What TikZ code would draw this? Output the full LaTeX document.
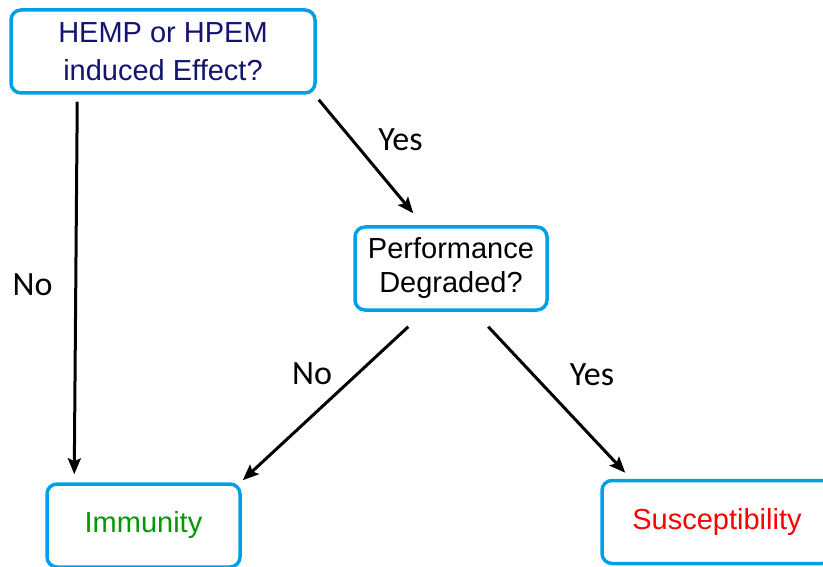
\documentclass[tikz,border=0pt]{standalone}
\usepackage{fontspec}
\setmainfont{Liberation Sans}
\newfontfamily\labfont{Carlito}
\usetikzlibrary{arrows.meta,calc}
\definecolor{boxblue}{RGB}{0,160,232}
\definecolor{navytext}{RGB}{20,20,110}
\definecolor{immgreen}{RGB}{0,153,0}
\definecolor{susred}{RGB}{255,0,0}
\begin{document}
\begin{tikzpicture}[x=1pt,y=-1pt,
  box/.style={draw=boxblue,line width=3.5pt,rounded corners=10pt,inner sep=0pt,align=center,font=\fontsize{29}{34}\selectfont},
  arr/.style={line width=3pt,-{Stealth[length=16pt,width=13pt,inset=3pt]}},
  lab/.style={font=\labfont\fontsize{34}{40}\selectfont,anchor=base}]
\clip (0,0) rectangle (823,567);
\fill[white] (0,0) rectangle (823,567);
\node[box,minimum width=304pt,minimum height=83pt,text=navytext,font=\fontsize{29}{38}\selectfont] (top) at (163,51.5) {HEMP or HPEM\\induced Effect?};
\node[box,minimum width=192pt,minimum height=83pt] (mid) at (451,268.5) {Performance\\Degraded?};
\node[box,minimum width=193pt,minimum height=83pt,text=immgreen] (imm) at (143.5,525.5) {Immunity};
\node[box,minimum width=230pt,minimum height=83pt,text=susred] (sus) at (717,522) {Susceptibility};
\draw[arr] ($(top.south west)+(68,7)$) -- ($(imm.north west)+(29,-8)$);
\draw[arr] ($(top.south east)+(2,5)$) -- ($(mid.north west)+(60,-12)$);
\draw[arr] ($(mid.south west)+(55,15)$) -- ($(imm.north east)+(1,-2)$);
\draw[arr] ($(mid.south west)+(135,15)$) -- ($(sus.north west)+(25,-6)$);
\node[lab] (yes1) at (400.5,151) {Yes};
\node[lab] (no1) at (32.5,295) {No};
\node[lab] (no2) at (312,384) {No};
\node[lab] (yes2) at (592,385) {Yes};
\end{tikzpicture}
\end{document}
